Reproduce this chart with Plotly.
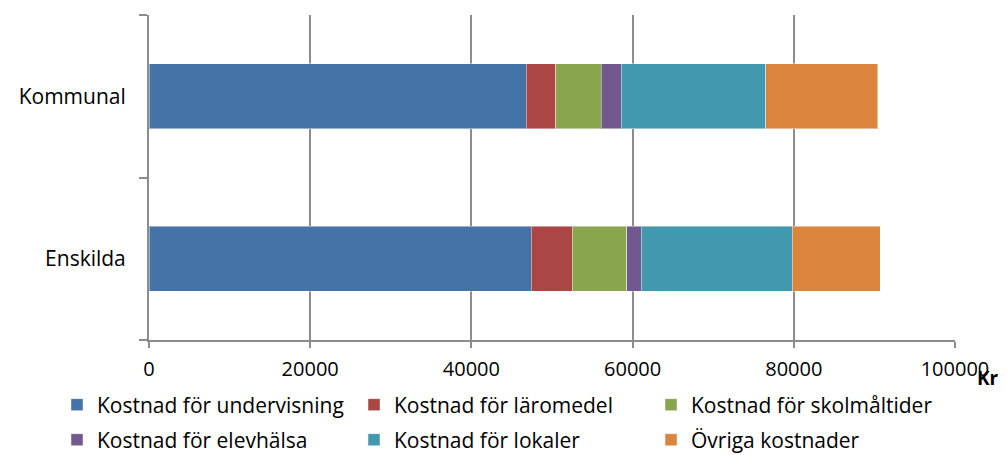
import plotly.graph_objects as go

categories = ["Kommunal", "Enskilda"]
series_names = [
    "Kostnad för undervisning",
    "Kostnad för läromedel",
    "Kostnad för skolmåltider",
    "Kostnad för elevhälsa",
    "Kostnad för lokaler",
    "Övriga kostnader",
]
undervisning = [46800, 47400]
laromedel = [3650, 5100]
skolmaltider = [5650, 6800]
elevhalsa = [2500, 1750]
lokaler = [17950, 18750]
ovriga = [13850, 10950]
colors = ["#4572A7", "#AA4643", "#89A54E", "#71588F", "#4198AF", "#DB843D"]
x_ticks = [0, 20000, 40000, 60000, 80000, 100000]

series_values = [undervisning, laromedel, skolmaltider, elevhalsa, lokaler, ovriga]

# legend slot positions (container fractions): 3 columns x 2 rows
legend_cols = [0.0491, 0.3467, 0.6443]
legend_rows = [0.1119, 0.0335]

FONT = "Open Sans"
fig = go.Figure()
layout_legends = {}
for i, (name, vals, col) in enumerate(zip(series_names, series_values, colors)):
    key = "legend" if i == 0 else f"legend{i + 1}"
    fig.add_trace(go.Bar(
        y=categories, x=vals, name=name, orientation="h",
        marker=dict(color=col, line=dict(color="rgba(255,255,255,0.45)", width=1)),
        legend=key, showlegend=True,
    ))
    layout_legends[key] = dict(
        x=legend_cols[i % 3], y=legend_rows[i // 3],
        orientation="h", xanchor="left", yanchor="middle",
        xref="container", yref="container",
        font=dict(family=FONT, size=21, color="#000000"),
        bgcolor="rgba(0,0,0,0)",
    )

fig.update_layout(
    showlegend=True,
    barmode="stack",
    bargap=0.6,
    width=998, height=447,
    margin=dict(l=141, r=51, t=7, b=115, autoexpand=False),
    paper_bgcolor="white", plot_bgcolor="white",
    font=dict(family=FONT, size=20, color="#000000"),
    xaxis=dict(
        range=[0, 100000], tickvals=x_ticks, ticktext=[str(v) for v in x_ticks],
        showgrid=True, gridcolor="#8c8c8c", gridwidth=2,
        showline=True, linecolor="#8c8c8c", linewidth=2,
        ticks="outside", ticklen=6, tickcolor="#8c8c8c", tickwidth=2,
        ticklabelstandoff=4, zeroline=False,
        tickfont=dict(family=FONT, size=20, color="#000000"),
    ),
    yaxis=dict(
        categoryorder="array", categoryarray=["Enskilda", "Kommunal"],
        range=[-0.5, 1.5], showgrid=False,
        showline=True, linecolor="#8c8c8c", linewidth=2,
        ticks="outside", ticklen=8, tickcolor="#8c8c8c", tickwidth=2,
        tickson="boundaries", ticklabelstandoff=17,
        tickfont=dict(family=FONT, size=21, color="#000000"),
    ),
    annotations=[dict(
        text="<b>Kr</b>", xref="paper", yref="paper",
        x=1.0248, y=-0.117, xanchor="left", yanchor="middle",
        showarrow=False, font=dict(family=FONT, size=19, color="#000000"),
    )],
    **layout_legends,
)
fig.write_html("out.html")
